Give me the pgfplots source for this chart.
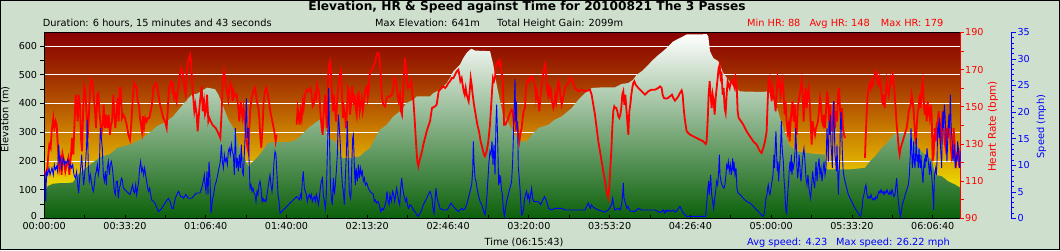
\documentclass[border=0pt]{standalone}
\usepackage{pgfplots}
\usepackage{pgfplotstable}
\pgfplotsset{compat=1.18}
\usepackage{fontspec}
\setmainfont{DejaVu Sans}
\definecolor{bgc}{RGB}{206,224,205}
\definecolor{hrc}{RGB}{255,0,0}
\definecolor{spc}{RGB}{0,0,255}
\definecolor{eg}{RGB}{10,96,10}
\definecolor{z0}{RGB}{234,210,0}
\definecolor{z1}{RGB}{222,172,0}
\definecolor{z2}{RGB}{202,128,0}
\definecolor{z3}{RGB}{180,84,0}
\definecolor{z4}{RGB}{160,46,0}
\definecolor{z5}{RGB}{145,14,0}
\definecolor{z6}{RGB}{138,0,0}
\pgfdeclareverticalshading{hrbg}{100bp}{color(0bp)=(z0); color(35bp)=(z0); color(40.4bp)=(z1); color(48.2bp)=(z2); color(55.9bp)=(z3); color(63.6bp)=(z4); color(71.3bp)=(z5); color(75bp)=(z6); color(100bp)=(z6)}
\newcommand\sm{\fontsize{9.8}{11}\selectfont}
\newcommand\tk{\fontsize{9.6}{11}\selectfont}

\pgfplotstableread{
t v
0 103
69 103
82 112
218 121
391 123
589 123
713 126
837 152
1134 187
1382 213
1629 224
1803 245
1951 251
2124 257
2372 274
2545 291
2793 321
3040 338
3189 355
3362 384
3536 413
3660 431
3783 434
3858 440
4031 455
4229 450
4311 431
4395 402
4477 373
4558 344
4682 315
4766 280
4848 239
4972 205
5054 182
5177 199
5301 216
5425 239
5549 263
5715 266
6044 266
6210 271
6376 291
6539 315
6705 332
6829 344
6911 326
7034 280
7200 268
7282 245
7366 210
7490 210
7695 213
7819 216
7901 228
8067 245
8149 268
8233 291
8315 309
8480 326
8644 355
8810 373
8976 402
9139 413
9223 425
9552 425
9634 436
9800 448
9966 471
10048 489
10129 512
10295 535
10377 558
10461 576
10543 587
10585 590
10667 584
11038 582
11120 535
11204 465
11286 408
11367 355
11451 344
11533 320
11657 290
11781 268
11947 268
12071 291
12234 315
12482 326
12647 344
12813 355
13061 384
13224 413
13390 436
13556 454
13804 456
14133 456
14299 468
14462 471
14586 483
14670 500
14794 512
14876 523
15042 547
15166 564
15289 578
15413 593
15577 616
15742 628
15908 640
16404 641
16443 634
16485 582
16567 558
16691 547
16815 506
16938 483
17062 460
17228 442
17805 440
17889 442
17971 435
18052 413
18137 390
18218 350
18300 315
18384 280
18466 251
18632 234
18879 228
19127 224
19333 222
19375 171
19952 171
20323 176
20447 199
20571 216
20737 245
20900 268
21024 291
21108 297
21395 297
21479 286
21643 245
21809 222
21975 205
22056 152
22222 147
22386 129
22551 118
22693 106
}\elevtab

\pgfplotstableread{
t v
0 115.3
45 113.5
78 117.1
102 124.3
127 129.7
160 127.9
185 136.8
226 144
251 138.6
284 142.2
309 140.4
350 124.3
375 117.1
408 121.6
432 113.5
457 124.3
490 120.7
523 115.3
556 118.9
597 122.5
622 113.5
664 124.3
688 133.2
721 124.3
746 138.6
779 156.5
804 151.1
829 142.2
853 156.5
886 151.1
911 133.2
936 126.1
969 151.1
994 161
1018 158.3
1051 145.8
1076 133.2
1101 142.2
1134 160.1
1159 164.6
1192 163.7
1216 158.3
1258 147.6
1282 138.6
1315 156.5
1340 157.4
1365 147.6
1390 142.2
1415 135
1448 140.4
1472 151.1
1505 138.6
1530 145.8
1563 138.6
1596 145.8
1629 135
1654 140.4
1679 142.2
1712 156.5
1736 145.8
1761 138.6
1794 147.6
1819 154.7
1844 142.2
1868 160.1
1893 160.1
1926 144
1959 145.8
2000 144
2042 140.4
2083 135
2124 132.3
2149 138.6
2174 147.6
2199 156.5
2232 162.8
2256 161.9
2289 160.1
2314 152.9
2347 151.1
2372 144
2397 140.4
2421 136.8
2446 144.9
2471 138.6
2504 144
2537 142.2
2570 144
2603 144
2636 147.6
2669 151.1
2702 160.1
2727 161
2760 162.8
2785 161.9
2826 157.4
2867 151.1
2908 147.6
2950 144
2991 142.2
3032 138.6
3057 147.6
3090 160.1
3115 161.9
3139 163.7
3164 162.8
3181 157.4
3197 160.1
3222 154.7
3247 156.5
3280 152.9
3304 158.3
3337 161.9
3362 167.2
3387 170.8
3420 169
3445 165.4
3470 160.1
3503 156.5
3527 167.2
3552 172.6
3585 176.2
3610 178
3635 174.4
3659 163.7
3692 154.7
3717 147.6
3742 151.1
3775 145.8
3800 136.8
3824 144
3857 152.9
3899 161
3924 147.6
3957 152.9
3982 145.8
4006 147.6
4031 156.5
4064 142.2
4089 144
4122 142.2
4163 140.4
4204 139.5
4246 138.6
4287 136.8
4328 135
4361 133.2
4394 147.6
4419 163.7
4452 169
4477 165.4
4502 161
4526 158.3
4559 153.8
4584 160.1
4609 162.8
4642 160.1
4667 152.9
4691 158.3
4724 155.6
4766 156.5
4807 149.3
4832 142.2
4865 152.9
4889 147.6
4914 144
4939 149.3
4972 142.2
4997 135
5021 129.7
5054 126.1
5079 138.6
5104 149.3
5137 154.7
5178 158.3
5220 160.1
5244 156.5
5269 152.9
5302 149.3
5327 144
5352 133.2
5376 127.9
5409 140.4
5434 152.9
5467 158.3
5500 160.1
5533 157.4
5566 152.9
5599 147.6
5632 144
5665 140.4
5698 136.8
5731 131.4
5756 135
5800 nan
6251 140.4
6276 149.3
6301 145.8
6325 140.4
6350 147.6
6375 144
6400 152.9
6424 149.3
6457 156.5
6499 159.2
6540 158.3
6565 159.2
6590 160.1
6623 156.5
6647 150.2
6672 151.1
6705 156.5
6730 154.7
6755 161.9
6788 158.3
6812 156.5
6837 147.6
6870 138.6
6895 135
6920 147.6
6953 156.5
6977 145.8
7002 138.6
7027 165.4
7052 172.6
7076 174.4
7101 169
7126 156.5
7151 147.6
7175 156.5
7200 149.3
7225 142.2
7250 151.1
7275 160.1
7299 163.7
7324 167.2
7349 169
7374 156.5
7398 144
7423 149.3
7448 145.8
7473 138.6
7497 147.6
7522 160.1
7547 158.3
7572 145.8
7596 151.1
7621 161
7646 156.5
7663 151.1
7688 156.5
7712 149.3
7737 145.8
7762 156.5
7787 157.4
7811 147.6
7836 151.1
7861 154.7
7886 147.6
7910 151.1
7935 156.5
7960 160.1
7985 161
8009 154.7
8034 158.3
8059 167.2
8084 169
8133 170.8
8166 172.6
8199 174.4
8232 178
8265 178.9
8290 178
8315 172.6
8340 163.7
8364 154.7
8397 151.1
8439 150.2
8480 154.7
8521 155.6
8562 155.6
8604 156.5
8645 160.1
8670 165.4
8694 164.6
8727 161
8752 156.5
8777 152.9
8810 156.5
8835 147.6
8859 145.8
8884 156.5
8909 167.2
8934 176.2
8958 170.8
8983 165.4
9008 160.1
9041 161
9066 161.9
9091 163.7
9115 156.5
9140 153.8
9165 145.8
9190 136.8
9214 127.9
9239 120.7
9264 118
9289 120.7
9322 123.4
9355 126.1
9388 129.7
9429 133.2
9470 136.8
9511 139.5
9553 142.2
9577 145.8
9602 149.3
9635 149.7
9676 150.2
9718 151.1
9742 154.7
9767 158.3
9800 159.2
9842 160.1
9883 161
9924 160.1
9965 161
10007 162.8
10048 163.7
10089 165.4
10130 165.4
10172 167.2
10213 169
10254 169.9
10279 167.2
10304 163.7
10337 165.4
10361 161.9
10386 158.3
10411 156.5
10436 160.1
10461 156.5
10485 154.7
10510 152.9
10535 158.3
10560 165.4
10584 161.9
10609 156.5
10642 151.1
10683 145.8
10725 140.4
10766 136.8
10807 131.4
10848 127.9
10890 124.3
10914 123.4
10956 126.1
10997 131.4
11038 140.4
11063 149.3
11088 158.3
11112 165.4
11137 163.7
11162 165.4
11187 172.6
11211 173.5
11236 174.4
11261 172.6
11286 174.4
11311 170.8
11335 167.2
11360 161.9
11385 140.4
11418 140.4
11492 144
11533 146.7
11574 148.4
11599 147.6
11624 142.2
11657 145.8
11681 138.6
11706 140.4
11739 136.8
11764 131.4
11789 135
11822 138.6
11846 144
11871 147.6
11904 149.3
11929 160.1
11954 163.7
11987 164.6
12011 163.7
12036 165.4
12069 166.3
12094 165.4
12119 163.7
12152 161
12177 154.7
12201 158.3
12234 152.9
12259 147.6
12284 154.7
12317 161.9
12342 165.4
12366 169
12399 172.6
12424 169
12449 160.1
12474 156.5
12498 161.9
12523 156.5
12548 158.3
12573 152.9
12606 149.3
12630 151.1
12655 156.5
12680 152.9
12705 158.3
12729 163.7
12754 161.9
12779 156.5
12812 151.1
12837 153.8
12861 156.5
12894 160.1
12944 161.9
13002 163.7
13027 165.4
13060 164.6
13101 162.8
13142 160.1
13183 159.2
13241 158.3
13307 159.2
13390 158.3
13472 158.8
13513 159.2
13555 156.5
13596 151.1
13637 145.8
13679 138.6
13720 131.4
13761 126.1
13802 120.7
13843 115.3
13885 110
13926 104.6
13967 101
13992 106.4
14017 117.1
14042 126.1
14066 138.6
14091 147.6
14116 150.2
14141 149.3
14166 149.3
14190 147.6
14215 144.9
14240 144
14265 145.8
14289 149.3
14314 156.5
14339 158.3
14364 151.1
14388 156.5
14413 149.3
14438 142.2
14463 135
14487 147.6
14512 151.1
14537 156.5
14562 160.1
14586 162.8
14611 163.7
14644 161.9
14677 161
14710 160.1
14751 159.2
14793 158.3
14834 157.4
14875 156.5
14917 157.4
14958 158.3
15040 159.2
15123 159.2
15205 160.1
15247 161
15288 160.1
15313 156.5
15346 154.7
15396 154.4
15445 154.7
15495 155.6
15544 156.5
15577 154.7
15618 153.3
15660 154.4
15701 155.6
15742 157.4
15783 158.8
15808 156.5
15833 149.3
15858 144
15882 140.4
15907 136.8
15948 135.9
15990 135
16072 134.1
16155 133.2
16237 132.3
16320 131.4
16378 130
16402 131.4
16427 142.2
16452 156.5
16477 163.7
16501 156.5
16526 149.3
16551 156.5
16576 152.9
16600 145.8
16625 154.7
16650 160.1
16675 165.4
16700 170.8
16724 172.6
16749 165.4
16774 167.2
16799 156.5
16823 160.1
16848 149.3
16873 146.7
16898 156.5
16922 163.7
16947 161.9
16972 160.1
16997 162.8
17021 163.7
17046 164.6
17071 161.9
17096 160.1
17120 165.4
17145 161.9
17170 147.6
17195 144
17228 143.1
17310 140.4
17393 136.8
17475 134.1
17558 131.4
17640 129.7
17723 126.1
17764 125.2
17805 127.9
17847 131.4
17888 136.8
17905 147.6
17921 156.5
17937 163.7
17962 165.4
17987 158.3
18012 152.9
18036 160.1
18061 156.5
18086 152.9
18111 147.6
18135 156.5
18160 165.4
18185 161.9
18210 163.7
18235 156.5
18259 160.1
18284 163.7
18309 156.5
18334 145.8
18358 152.9
18383 142.2
18408 136.8
18433 140.4
18457 131.4
18482 142.2
18507 149.3
18532 152.9
18556 142.2
18581 151.1
18606 138.6
18631 135
18656 149.3
18680 152.9
18705 156.5
18730 160.1
18755 163.7
18779 156.5
18804 142.2
18829 154.7
18854 160.1
18878 149.3
18903 156.5
18928 160.1
18953 152.9
18977 142.2
19002 129.7
19027 142.2
19052 138.6
19085 135
19110 138.6
19135 140.4
19159 142.2
19184 147.6
19209 154.7
19234 151.1
19258 142.2
19283 140.4
19308 145.8
19333 138.6
19357 147.6
19382 158.3
19407 154.7
19432 142.2
19456 151.1
19481 142.2
19506 136.8
19531 145.8
19555 152.9
19580 138.6
19605 147.6
19630 142.2
19654 156.5
19679 160.1
19704 149.3
19729 142.2
19754 149.3
19778 138.6
19803 135
19828 133.2
19900 nan
20323 122.5
20339 133.2
20364 145.8
20389 156.5
20414 160.1
20438 161.9
20463 160.1
20488 163.7
20513 161.9
20537 165.4
20562 167.2
20587 169
20612 168.1
20637 163.7
20661 161.9
20686 165.4
20711 161.9
20736 156.5
20760 151.1
20785 156.5
20810 149.3
20835 156.5
20859 163.7
20884 160.1
20909 156.5
20934 160.1
20958 165.4
20983 163.7
21008 167.2
21033 163.7
21057 156.5
21082 149.3
21107 140.4
21132 135
21156 127.9
21181 124.3
21206 127.9
21231 129.7
21255 131.4
21280 133.2
21305 135
21330 136.8
21355 138.6
21379 142.2
21404 147.6
21429 149.3
21454 151.1
21478 156.5
21503 152.9
21528 147.6
21553 138.6
21577 129.7
21602 138.6
21627 147.6
21652 149.3
21676 156.5
21701 149.3
21726 160.1
21751 163.7
21775 154.7
21800 145.8
21825 151.1
21850 142.2
21874 152.9
21899 147.6
21924 144
21949 151.1
21974 145.8
21998 120.7
22023 124.3
22048 138.6
22073 131.4
22097 140.4
22122 142.2
22147 147.6
22172 138.6
22196 129.7
22221 140.4
22246 147.6
22271 138.6
22295 131.4
22320 127.9
22345 138.6
22370 133.2
22394 142.2
22419 138.6
22444 129.7
22469 122.5
22494 124.3
22518 138.6
22543 129.7
22568 117.1
22593 124.3
22617 126.1
22642 120.7
22667 124.3
22692 127.9
}\hrtab

\pgfplotstableread{
t v
20 8.85
36 3.2
61 8.85
86 8.2
119 9.5
144 8.2
168 8.85
193 9.5
226 8.2
251 10.1
276 9.2
309 9.8
333 8.85
358 13.9
383 10.7
408 11.3
432 9.5
457 10.7
482 11.3
507 10.1
531 10.7
556 10.4
581 11
606 10.7
631 9.5
655 10.1
680 9.5
705 10.1
738 8.2
771 7.6
804 8.85
829 6.3
853 4.8
878 7.6
903 9.5
928 12
952 8.85
977 6.3
1002 8.2
1027 10.7
1051 13.9
1068 18.6
1093 9.5
1117 7
1142 8.2
1167 7
1192 5.7
1216 5.1
1241 6.3
1266 8.2
1291 8.85
1315 10.1
1340 8.2
1365 9.5
1390 17
1415 15.1
1439 13.2
1464 8.2
1489 7
1514 8.85
1538 6.3
1563 9.5
1588 10.7
1613 8.2
1637 10.1
1662 10.7
1687 9.5
1712 7.6
1736 5.1
1761 4.5
1786 7
1811 7
1835 3.8
1860 5.7
1885 6.3
1910 7.6
1934 7.3
1959 5.7
2042 5.1
2124 4.5
2166 5.7
2190 6.3
2215 5.1
2240 4.8
2265 6.3
2289 4.5
2314 5.7
2339 7
2364 9.5
2388 10.7
2413 8.85
2438 9.5
2463 8.2
2487 9.5
2512 8.2
2537 7
2562 5.7
2586 5.1
2611 5.7
2636 4.5
2661 3.5
2710 3.2
2760 2.6
2809 1.6
2834 1.3
2908 1.9
2991 2.9
3073 3.8
3115 3.2
3164 1.9
3197 1.9
3247 3.8
3304 4.8
3329 5.1
3379 4.1
3428 4.1
3453 3.8
3503 4.5
3569 3.8
3651 3.8
3734 4.5
3775 4.8
3857 4.8
3899 5.7
3940 7
3965 8.2
3982 6.3
4006 5.1
4031 8.85
4056 4.5
4081 10.7
4105 7.6
4130 1
4147 1.9
4171 3.8
4196 4.5
4229 6.3
4262 7
4295 8.2
4328 9.5
4361 10.7
4386 13.9
4411 10.7
4436 9.5
4460 12
4485 10.7
4510 11.3
4535 10.1
4559 12.6
4584 13.2
4609 12
4634 13.9
4658 12.6
4683 12
4708 8.2
4733 17
4757 9.5
4782 11.3
4807 8.85
4832 12
4856 9.5
4881 13.9
4906 8.85
4931 8.2
4955 12
4980 16.4
5005 22.6
5030 15.1
5054 17
5071 11.3
5096 5.7
5120 6.3
5145 5.1
5170 5.7
5195 4.8
5220 4.5
5244 3.2
5269 5.1
5294 4.5
5319 6.3
5343 7
5368 5.7
5393 3.2
5418 3.8
5442 3.2
5467 3.5
5492 3.2
5517 4.5
5541 5.7
5566 7
5591 8.2
5616 6.3
5640 5.1
5665 7
5690 10.7
5715 12.6
5739 12
5764 8.2
5789 4.5
5814 3.2
5839 1
5962 1.9
6086 2.9
6210 3.8
6251 4.1
6292 3.8
6317 3.5
6342 4.5
6367 3.8
6391 7
6416 8.85
6441 5.7
6466 5.1
6490 4.5
6515 3.2
6540 4.1
6565 4.5
6590 3.8
6614 4.5
6639 3.2
6664 3.8
6689 4.1
6713 3.2
6738 4.5
6763 3.8
6788 2.6
6812 3.8
6837 5.7
6862 7
6887 7.6
6911 4.5
6936 3.2
6961 1.9
6986 4.5
7010 12
7027 17
7043 24.5
7060 17
7085 7
7109 3.8
7134 2.6
7159 7.6
7184 4.5
7208 6.3
7233 8.85
7258 12
7283 19.5
7308 17
7332 13.9
7357 9.5
7382 6.3
7407 5.1
7431 2.6
7456 7.6
7481 12
7506 18.3
7530 10.7
7555 5.1
7580 3.8
7597 4.5
7613 9.5
7638 15.1
7655 15.7
7671 12
7688 8.2
7704 6.3
7721 9.5
7737 8.2
7754 7
7778 10.1
7803 7.6
7828 9.5
7853 8.2
7877 8.85
7902 7
7927 7.6
7952 6.3
7985 6.7
8026 5.7
8067 5.1
8108 4.8
8150 4.5
8174 3.2
8199 3.5
8232 2.9
8265 3.2
8298 2.6
8331 1.3
8364 1.9
8397 1.6
8430 2.3
8463 3.2
8488 5.1
8513 3.2
8538 2.6
8562 4.5
8595 3.2
8628 5.1
8653 4.5
8678 3.2
8703 4.5
8727 5.7
8752 4.5
8777 3.2
8802 2.6
8826 5.7
8851 7.6
8876 5.7
8901 4.5
8925 3.8
8950 3.2
8975 3.8
9000 2.3
9024 1.9
9057 2.6
9099 2.3
9140 1.6
9181 1.3
9223 0.7
9264 0.4
9305 1
9346 1.6
9388 2.6
9429 3.2
9470 3.8
9511 4.5
9553 5.1
9577 4.5
9602 3.8
9627 1.9
9652 1
9676 3.2
9701 5.7
9726 3.8
9751 3.2
9776 2.6
9800 1.9
9883 1.6
9965 1.6
10007 1.9
10048 2.6
10073 2.9
10097 2.6
10130 2.3
10172 1.9
10213 1.6
10254 1.3
10295 1.6
10337 1.9
10378 1.6
10419 1.9
10461 2.6
10502 3.8
10543 5.1
10584 6.3
10609 8.85
10626 14.5
10642 10.7
10667 7.6
10692 7
10716 5.7
10749 4.5
10791 3.2
10832 2.6
10873 1.6
10914 0.7
10939 1.9
10964 4.5
10989 7.6
11013 10.7
11038 12.6
11063 12
11088 14.5
11112 10.1
11137 13.9
11162 8.2
11187 18.3
11203 21.4
11220 17
11236 12
11253 6.3
11269 8.2
11286 7
11302 7.6
11319 5.7
11344 4.5
11368 1.9
11393 0.4
11450 3.2
11492 4.5
11533 5.7
11574 7
11599 10.7
11624 17
11640 21.4
11657 26.2
11673 18.3
11690 22
11706 17
11723 17.6
11739 9.5
11756 8.2
11780 5.7
11805 2.6
11822 0.7
11846 1
11871 1.9
11896 3.8
11921 4.5
11945 5.1
11970 3.8
11995 4.5
12020 3.2
12044 4.5
12069 5.7
12094 3.8
12119 3.2
12168 3.2
12218 3.2
12267 2.9
12292 2.6
12342 3.5
12391 4.1
12441 3.2
12490 1.9
12564 1.6
12647 1.9
12729 1.9
12812 1.9
12894 1.6
12977 1.6
13060 1.6
13142 1.6
13225 1.6
13390 1.6
13431 2.3
13472 2.9
13497 2.3
13522 1.9
13546 2.6
13571 2.3
13637 1.9
13720 1.6
13802 1.4
13885 1.2
13967 1.6
14050 2.6
14075 3.8
14099 2.6
14124 1.6
14215 1.9
14256 1.6
14298 2.6
14322 4.5
14339 6.7
14355 3.8
14380 3.2
14430 1.9
14454 2.3
14504 1.4
14628 1.3
14710 1.9
14793 1.6
14875 1.6
14958 1.6
15040 1.6
15123 1.6
15205 1.3
15247 1.1
15288 1.3
15330 1.6
15363 1
15396 1.6
15429 1.3
15462 1.6
15495 1.3
15577 1.6
15618 1.2
15660 1.4
15701 1.9
15742 2.3
15783 1.6
15825 1
15866 0.7
15907 0.4
16378 0.4
16402 2.6
16427 5.1
16452 7
16468 4.5
16485 6.3
16501 8.2
16526 4.5
16551 3.2
16576 1.9
16600 3.8
16625 5.1
16650 7
16675 6.3
16700 8.85
16716 12
16733 8.2
16757 7
16782 6.3
16807 6
16832 5.7
16856 6.3
16881 8.2
16898 10.1
16922 9.5
16939 10.7
16964 8.85
16988 10.1
17013 8.2
17030 9.5
17046 11.3
17063 8.85
17079 10.7
17104 8.2
17129 9.5
17153 5.7
17178 4.8
17228 4.5
17310 3.8
17393 3.2
17475 2.9
17558 2.3
17640 1.6
17723 1
17789 0.4
17822 0.7
17847 1.9
17871 3.8
17896 4.5
17913 5.7
17929 6.3
17946 5.1
17970 4.5
17995 5.7
18020 7
18045 8.2
18069 12
18086 9.5
18102 13.9
18119 16.4
18135 12
18152 8.85
18169 10.7
18185 7
18202 9.5
18218 10.7
18235 13.9
18251 18.3
18268 13.9
18284 12
18301 10.7
18317 7.6
18334 5.7
18350 3.2
18367 1.3
18383 1
18408 4.5
18433 7
18449 9.5
18466 10.7
18482 8.85
18499 12
18515 8.2
18532 10.1
18548 9.5
18573 10.7
18590 12.6
18606 17
18623 13.9
18639 9.5
18656 7.6
18672 8.85
18689 12
18705 10.7
18722 8.2
18738 7
18763 9.5
18788 12
18812 13.2
18837 10.7
18862 7.6
18887 6.3
18911 8.2
18936 5.7
18961 4.5
18977 3.8
19002 6.3
19027 8.85
19052 7
19077 5.7
19110 10.7
19135 7
19159 9.5
19184 11.3
19209 8.2
19234 9.5
19258 7
19283 8.85
19308 10.7
19333 8.2
19357 9.5
19382 17
19399 13.9
19415 10.7
19432 18.3
19448 15.7
19465 19.5
19481 13.9
19498 12
19514 9.5
19531 17
19547 22
19564 17
19580 12
19597 10.7
19613 8.85
19630 13.9
19646 9.5
19663 4.5
19679 8.2
19696 10.7
19712 17
19729 20.1
19745 17
19762 12.6
19778 9.5
19795 8.2
19828 7
19910 4.5
19993 3.2
20075 1.9
20158 1
20199 0.4
20224 0.7
20249 1.9
20273 3.8
20298 4.5
20323 5.7
20348 6.3
20372 4.5
20397 3.8
20422 4.1
20447 3.8
20471 4.5
20496 3.8
20521 3.5
20546 3.8
20571 3.5
20595 4.1
20620 3.8
20645 4.5
20670 5.1
20694 4.8
20719 5.4
20744 4.8
20769 5.1
20793 4.5
20818 5.1
20843 4.8
20868 5.4
20892 4.8
20917 4.5
20942 5.1
20967 4.5
20991 5.4
21016 4.8
21041 4.1
21066 4.5
21090 6.3
21107 7.6
21123 5.7
21148 3.2
21173 1.6
21198 0.4
21223 1.3
21247 2.6
21272 3.2
21297 3.8
21322 4.5
21346 5.1
21371 5.7
21396 6.3
21421 8.2
21445 12
21462 17
21478 13.2
21495 9.5
21511 10.7
21528 14.5
21544 10.7
21561 9.5
21577 12
21594 15.1
21610 10.7
21627 12
21643 9.5
21660 13.2
21676 10.7
21693 9.5
21709 12
21726 9.5
21742 8.2
21759 6.7
21775 9.5
21792 10.7
21808 9.5
21825 12
21841 10.7
21858 13.2
21874 12
21891 10.7
21907 9.5
21924 8.2
21940 10.7
21957 9.5
21974 8.2
21990 6.3
22007 4.5
22023 1.6
22040 7.6
22056 8.85
22073 9.5
22089 8.2
22106 10.7
22122 17
22139 17.6
22155 15.1
22172 18.9
22188 14.5
22205 12
22221 9.5
22238 17
22254 20.1
22271 17
22287 21.4
22304 19.5
22320 17
22337 13.9
22353 10.7
22370 14.5
22386 17
22403 19.5
22419 17
22436 23.3
22452 18.3
22469 15.7
22485 13.9
22502 10.7
22518 12
22535 13.9
22551 10.7
22568 9.5
22584 12
22601 10.7
22617 14.5
22634 13.2
22650 11.3
22667 9.5
22692 12.6
}\sptab

\pgfplotsset{plotarea/.style={at={(44.2pt,31.5pt)}, anchor=south west, scale only axis,
  width=916.5pt, height=186.2pt, xmin=0, xmax=22693, scaled x ticks=false, scaled y ticks=false}}

\begin{document}
\begin{tikzpicture}
\fill[bgc] (0,0) rectangle (1060pt,250pt);
\path[use as bounding box] (0,0) rectangle (1060pt,250pt);

% background + grid
\begin{axis}[plotarea, ymin=0, ymax=647.6,
  axis background/.style={shade, shading=hrbg},
  axis line style={draw=none}, xtick=\empty, ytick={100,200,...,600},
  yticklabels={}, ymajorgrids, grid style={white, line width=0.9pt},
  major tick length=0pt]
\end{axis}

% elevation
\begin{axis}[plotarea, ymin=0, ymax=647.6, axis on top,
  axis line style={black, line width=1.3pt},
  tick pos=left,
  xtick={0,2000,...,22000}, minor x tick num=1,
  xticklabels={00:00:00,00:33:20,01:06:40,01:40:00,02:13:20,02:46:40,03:20:00,03:53:20,04:26:40,05:00:00,05:33:20,06:06:40},
  xtick align=inside, ytick align=outside,
  ytick={100,200,...,600}, minor ytick={50,150,...,550},
  extra y ticks={0},
  extra y tick style={yticklabel style={yshift=2.8pt}},
  major tick length=4pt, minor tick length=4pt,
  every tick/.style={black, line width=0.8pt},
  /pgf/number format/assume math mode=true,
  xticklabel style={font=\tk, inner sep=0pt, anchor=base, yshift=-10.8pt},
  yticklabel style={font=\tk, inner sep=0pt, anchor=east, xshift=-2.9pt}]
\addplot[draw=none, top color=white, bottom color=eg] table[x=t,y=v]{\elevtab} \closedcycle;
\end{axis}

% heart rate
\begin{axis}[plotarea, ymin=90, ymax=190, axis x line=none, xtick=\empty, axis y line*=right,
  y axis line style={hrc, line width=1pt},
  ytick={90,110,...,190}, minor y tick num=1,
  tick align=outside, major tick length=3pt, minor tick length=3pt,
  every tick/.style={hrc, line width=0.8pt},
  /pgf/number format/assume math mode=true,
  yticklabel style={font=\tk, text=hrc, inner sep=0pt, anchor=west, xshift=1.3pt},
  unbounded coords=jump]
\addplot[hrc, line width=1.8pt] table[x=t,y=v]{\hrtab};
\end{axis}

% speed line
\begin{axis}[plotarea, ymin=0, ymax=35, hide axis, xtick=\empty, ytick=\empty]
\addplot[spc, line width=0.9pt] table[x=t,y=v]{\sptab};
\end{axis}

% speed scale
\begin{axis}[at={(1001pt,31.5pt)}, anchor=south west, scale only axis,
  width=10pt, height=186.2pt, xmin=0, xmax=1, ymin=0, ymax=35,
  axis x line=none, xtick=\empty, axis y line*=right,
  y axis line style={spc, line width=1pt},
  ytick={0,5,...,35}, minor y tick num=4,
  tick align=outside, major tick length=5pt, minor tick length=3pt,
  every tick/.style={spc, line width=0.8pt},
  /pgf/number format/assume math mode=true,
  yticklabel style={font=\tk, text=spc, inner sep=0pt, anchor=west, xshift=1.3pt}]
\end{axis}

% texts
\node[font=\bfseries\fontsize{12.2}{14}\selectfont, anchor=base, inner sep=0pt] at (527pt,239.3pt) {Elevation, HR \& Speed against Time for 20100821 The 3 Passes};
\node[font=\sm, anchor=base west, inner sep=0pt] at (42.7pt,223.2pt) {Duration: 6 hours, 15 minutes and 43 seconds};
\node[font=\sm, anchor=base west, inner sep=0pt] at (375pt,223.2pt) {Max Elevation: 641m};
\node[font=\sm, anchor=base west, inner sep=0pt] at (497pt,223.2pt) {Total Height Gain: 2099m};
\node[font=\sm, text=hrc, anchor=base west, inner sep=0pt] at (747pt,223.2pt) {Min HR: 88};
\node[font=\sm, text=hrc, anchor=base west, inner sep=0pt] at (809.3pt,223.2pt) {Avg HR: 148};
\node[font=\sm, text=hrc, anchor=base west, inner sep=0pt] at (880.7pt,223.2pt) {Max HR: 179};
\node[font=\sm, anchor=base, inner sep=0pt] at (524pt,4.6pt) {Time (06:15:43)};
\node[font=\sm, text=spc, anchor=base west, inner sep=0pt] at (747pt,4.6pt) {Avg speed: 4.23};
\node[font=\sm, text=spc, anchor=base west, inner sep=0pt] at (836pt,4.6pt) {Max speed: 26.22 mph};
\node[font=\sm, rotate=90, inner sep=0pt] at (5.3pt,130.5pt) {Elevation (m)};
\node[font=\fontsize{10.4}{12}\selectfont, text=hrc, rotate=90, inner sep=0pt] at (993pt,123.5pt) {Heart Rate (bpm)};
\node[font=\sm, text=spc, rotate=90, inner sep=0pt] at (1041.5pt,123.5pt) {Speed (mph)};

\draw[black, line width=1pt] (0.5pt,0.5pt) rectangle (1059.5pt,249.5pt);
\end{tikzpicture}
\end{document}
